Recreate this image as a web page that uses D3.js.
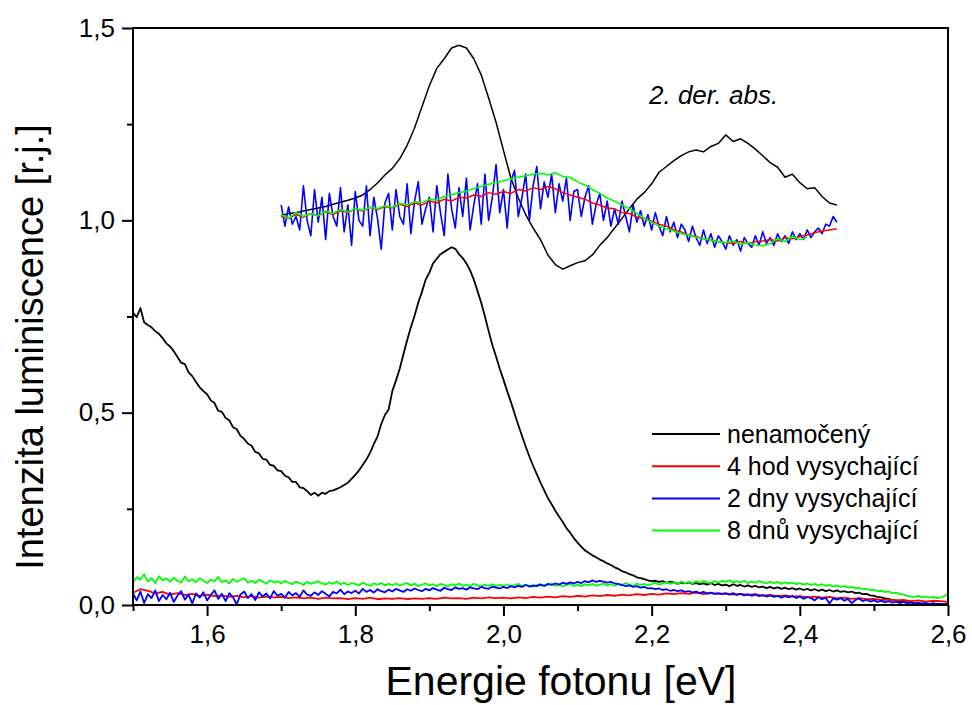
<!DOCTYPE html>
<html>
<head>
<meta charset="utf-8">
<script src="https://cdn.jsdelivr.net/npm/d3@7/dist/d3.min.js"></script>
<style>
  body { margin: 0; background: #fff; }
  text { font-family: Arial, "Liberation Sans", sans-serif; fill: #000; }
</style>
</head>
<body>
<svg id="chart" width="972" height="705"></svg>
<script>
// ---- Luminescence spectra (lower curves), sampled on a regular energy grid ----
const plStart = 1.50;
const plFineStep = 0.005;   // black, green and blue spectra
const plCoarseStep = 0.01;  // red spectrum

// nenamočený – photoluminescence, 1.50..2.60 eV, step 0.005
const plDry = [
  0.760, 0.748, 0.772, 0.735, 0.728, 0.722, 0.712, 0.705, 0.694, 0.680,
  0.672, 0.660, 0.645, 0.630, 0.626, 0.605, 0.595, 0.580, 0.566, 0.556,
  0.548, 0.532, 0.525, 0.505, 0.502, 0.486, 0.480, 0.462, 0.457, 0.440,
  0.432, 0.420, 0.414, 0.398, 0.394, 0.380, 0.378, 0.364, 0.362, 0.350,
  0.348, 0.336, 0.332, 0.320, 0.320, 0.306, 0.304, 0.296, 0.286, 0.292,
  0.284, 0.292, 0.289, 0.296, 0.298, 0.302, 0.306, 0.312, 0.318, 0.328,
  0.338, 0.350, 0.364, 0.378, 0.396, 0.418, 0.438, 0.470, 0.494, 0.508,
  0.556, 0.584, 0.614, 0.652, 0.688, 0.722, 0.752, 0.786, 0.814, 0.846,
  0.864, 0.888, 0.900, 0.912, 0.918, 0.924, 0.930, 0.926, 0.912, 0.902,
  0.888, 0.870, 0.846, 0.816, 0.786, 0.750, 0.712, 0.676, 0.646, 0.614,
  0.586, 0.556, 0.528, 0.498, 0.468, 0.440, 0.412, 0.386, 0.362, 0.340,
  0.318, 0.298, 0.278, 0.262, 0.245, 0.230, 0.216, 0.200, 0.188, 0.174,
  0.162, 0.152, 0.142, 0.136, 0.129, 0.124, 0.118, 0.114, 0.108, 0.104,
  0.098, 0.094, 0.088, 0.085, 0.080, 0.077, 0.072, 0.070, 0.067, 0.064,
  0.062, 0.063, 0.060, 0.062, 0.058, 0.061, 0.059, 0.055, 0.058, 0.056,
  0.059, 0.055, 0.057, 0.054, 0.056, 0.053, 0.057, 0.052, 0.055, 0.051,
  0.053, 0.049, 0.054, 0.050, 0.052, 0.048, 0.051, 0.047, 0.050, 0.046,
  0.048, 0.044, 0.047, 0.043, 0.046, 0.042, 0.045, 0.041, 0.044, 0.040,
  0.043, 0.039, 0.042, 0.038, 0.041, 0.037, 0.040, 0.036, 0.039, 0.035,
  0.038, 0.034, 0.036, 0.033, 0.035, 0.031, 0.032, 0.028, 0.029, 0.025,
  0.024, 0.021, 0.020, 0.017, 0.016, 0.013, 0.012, 0.010, 0.009, 0.007,
  0.007, 0.005, 0.005, 0.004, 0.004, 0.003, 0.004, 0.003, 0.003, 0.002,
  0.003
];

// 4 hod vysychající – 1.50..2.60 eV, step 0.01
const pl4h = [
  0.032, 0.041, 0.037, 0.030, 0.034, 0.027, 0.031, 0.026, 0.029, 0.024,
  0.027, 0.023, 0.025, 0.021, 0.024, 0.020, 0.023, 0.019, 0.022, 0.020,
  0.021, 0.018, 0.020, 0.017, 0.019, 0.016, 0.019, 0.017, 0.018, 0.015,
  0.018, 0.016, 0.019, 0.015, 0.017, 0.016, 0.018, 0.015, 0.017, 0.016,
  0.018, 0.016, 0.019, 0.017, 0.018, 0.016, 0.019, 0.017, 0.020, 0.018,
  0.019, 0.017, 0.020, 0.018, 0.021, 0.019, 0.022, 0.020, 0.023, 0.021,
  0.024, 0.022, 0.025, 0.023, 0.026, 0.024, 0.027, 0.025, 0.028, 0.026,
  0.029, 0.027, 0.030, 0.028, 0.031, 0.029, 0.032, 0.028, 0.031, 0.029,
  0.030, 0.027, 0.029, 0.026, 0.028, 0.024, 0.026, 0.023, 0.025, 0.022,
  0.023, 0.020, 0.022, 0.019, 0.021, 0.017, 0.019, 0.016, 0.018, 0.015,
  0.016, 0.013, 0.014, 0.012, 0.013, 0.010, 0.012, 0.009, 0.011, 0.010,
  0.008
];

// 2 dny vysychající – 1.50..2.60 eV, step 0.005
const pl2d = [
  0.030, 0.012, 0.035, 0.005, 0.028, 0.018, 0.038, 0.010, 0.026, 0.015,
  0.032, 0.008, 0.024, 0.036, 0.014, 0.027, 0.004, 0.030, 0.019, 0.033,
  0.012, 0.026, 0.038, 0.016, 0.029, 0.010, 0.031, 0.020, 0.002, 0.027,
  0.035, 0.018, 0.028, 0.013, 0.033, 0.022, 0.030, 0.017, 0.036, 0.024,
  0.029, 0.019, 0.034, 0.025, 0.031, 0.021, 0.038, 0.027, 0.024, 0.033,
  0.026, 0.036, 0.029, 0.022, 0.034, 0.030, 0.040, 0.028, 0.035, 0.031,
  0.037, 0.030, 0.042, 0.034, 0.039, 0.032, 0.041, 0.036, 0.033, 0.040,
  0.035, 0.042, 0.038, 0.034, 0.041, 0.037, 0.043, 0.039, 0.036, 0.042,
  0.038, 0.044, 0.040, 0.037, 0.045, 0.041, 0.039, 0.046, 0.042, 0.044,
  0.040, 0.046, 0.043, 0.041, 0.047, 0.044, 0.042, 0.048, 0.045, 0.043,
  0.047, 0.044, 0.049, 0.046, 0.050, 0.047, 0.052, 0.048, 0.051, 0.049,
  0.053, 0.050, 0.055, 0.052, 0.056, 0.053, 0.058, 0.055, 0.059, 0.056,
  0.060, 0.057, 0.062, 0.059, 0.064, 0.060, 0.063, 0.061, 0.058, 0.060,
  0.056, 0.054, 0.052, 0.049, 0.051, 0.047, 0.049, 0.045, 0.047, 0.043,
  0.044, 0.041, 0.043, 0.039, 0.041, 0.037, 0.039, 0.036, 0.038, 0.034,
  0.036, 0.033, 0.035, 0.031, 0.034, 0.030, 0.032, 0.029, 0.031, 0.028,
  0.030, 0.027, 0.031, 0.026, 0.029, 0.025, 0.028, 0.024, 0.027, 0.023,
  0.026, 0.022, 0.025, 0.021, 0.024, 0.019, 0.023, 0.020, 0.024, 0.018,
  0.022, 0.016, 0.021, 0.018, 0.012, 0.020, 0.015, 0.019, 0.004, 0.017,
  0.014, 0.018, 0.011, 0.016, 0.005, 0.013, 0.017, 0.010, 0.014, 0.009,
  0.012, 0.008, 0.011, 0.007, 0.010, 0.006, 0.009, 0.005, 0.008, 0.004,
  0.007, 0.003, 0.006, 0.002, 0.005, 0.002, 0.004, 0.001, 0.003, 0.002,
  0.002
];

// 8 dnů vysychající – 1.50..2.60 eV, step 0.005
const pl8d = [
  0.058, 0.072, 0.066, 0.080, 0.061, 0.070, 0.057, 0.075, 0.064, 0.069,
  0.060, 0.071, 0.063, 0.058, 0.074, 0.062, 0.067, 0.059, 0.070, 0.063,
  0.057, 0.066, 0.061, 0.073, 0.059, 0.064, 0.056, 0.068, 0.060, 0.065,
  0.070, 0.058, 0.063, 0.057, 0.066, 0.061, 0.055, 0.064, 0.059, 0.062,
  0.056, 0.063, 0.058, 0.054, 0.061, 0.057, 0.052, 0.060, 0.055, 0.058,
  0.062, 0.056, 0.053, 0.059, 0.055, 0.061, 0.054, 0.058, 0.052, 0.057,
  0.055, 0.051, 0.058, 0.054, 0.050, 0.056, 0.053, 0.057, 0.051, 0.055,
  0.052, 0.056, 0.050, 0.054, 0.057, 0.051, 0.055, 0.049, 0.053, 0.056,
  0.051, 0.054, 0.049, 0.055, 0.052, 0.048, 0.054, 0.051, 0.056, 0.050,
  0.053, 0.049, 0.055, 0.051, 0.048, 0.053, 0.050, 0.054, 0.049, 0.052,
  0.050, 0.054, 0.048, 0.052, 0.055, 0.049, 0.053, 0.050, 0.047, 0.052,
  0.054, 0.049, 0.052, 0.056, 0.050, 0.053, 0.048, 0.052, 0.055, 0.050,
  0.053, 0.049, 0.054, 0.051, 0.055, 0.050, 0.053, 0.056, 0.051, 0.054,
  0.050, 0.055, 0.052, 0.057, 0.053, 0.050, 0.056, 0.052, 0.055, 0.051,
  0.054, 0.058, 0.053, 0.056, 0.060, 0.055, 0.058, 0.054, 0.061, 0.057,
  0.060, 0.056, 0.062, 0.058, 0.063, 0.059, 0.057, 0.062, 0.058, 0.063,
  0.060, 0.064, 0.058, 0.062, 0.059, 0.063, 0.057, 0.061, 0.058, 0.062,
  0.059, 0.056, 0.061, 0.057, 0.060, 0.055, 0.059, 0.056, 0.058, 0.054,
  0.057, 0.053, 0.056, 0.052, 0.055, 0.051, 0.054, 0.050, 0.052, 0.048,
  0.051, 0.047, 0.049, 0.045, 0.047, 0.043, 0.045, 0.041, 0.042, 0.039,
  0.040, 0.036, 0.037, 0.034, 0.035, 0.031, 0.032, 0.028, 0.027, 0.024,
  0.022, 0.021, 0.024, 0.020, 0.022, 0.019, 0.021, 0.018, 0.020, 0.023,
  0.029
];

// ---- Second derivative of absorption (upper curves, offset scale) ----
const derStart = 1.70;
const derStep = 0.01;
const derFineStep = 0.005;

// nenamočený, 1.70..2.45 eV, step 0.01
const derDry = [
  1.012, 1.018, 1.020, 1.024, 1.028, 1.032, 1.036, 1.042, 1.047, 1.052,
  1.058, 1.066, 1.080, 1.097, 1.118, 1.135, 1.160, 1.195, 1.240, 1.295,
  1.350, 1.395, 1.420, 1.448, 1.455, 1.448, 1.420, 1.378, 1.318, 1.255,
  1.182, 1.110, 1.058, 1.015, 0.980, 0.950, 0.910, 0.885, 0.873, 0.882,
  0.890, 0.895, 0.910, 0.935, 0.955, 0.980, 1.005, 1.030, 1.055, 1.072,
  1.095, 1.125, 1.140, 1.155, 1.168, 1.178, 1.183, 1.178, 1.192, 1.200,
  1.222, 1.205, 1.212, 1.200, 1.185, 1.168, 1.150, 1.138, 1.112, 1.120,
  1.098, 1.082, 1.085, 1.062, 1.045, 1.040
];

// 4 hod vysychající, 1.70..2.45 eV, step 0.01
const der4h = [
  1.010, 1.005, 1.015, 1.008, 1.018, 1.012, 1.022, 1.015, 1.025, 1.020,
  1.030, 1.024, 1.033, 1.028, 1.036, 1.032, 1.042, 1.036, 1.045, 1.040,
  1.050, 1.045, 1.055, 1.050, 1.060, 1.058, 1.066, 1.062, 1.072, 1.068,
  1.075, 1.070, 1.080, 1.076, 1.085, 1.080, 1.088, 1.082, 1.072, 1.066,
  1.060, 1.055, 1.045, 1.040, 1.032, 1.030, 1.020, 1.018, 1.008, 1.005,
  0.998, 0.990, 0.985, 0.975, 0.970, 0.962, 0.958, 0.952, 0.948, 0.944,
  0.942, 0.940, 0.945, 0.940, 0.944, 0.946, 0.950, 0.946, 0.955, 0.952,
  0.958, 0.962, 0.968, 0.972, 0.975, 0.978
];

// 2 dny vysychající, 1.70..2.45 eV, step 0.005
const der2d = [
  1.040, 0.985, 1.035, 0.990, 1.010, 0.975, 1.090, 1.000, 0.960, 1.080,
  0.995, 1.060, 0.950, 1.070, 1.010, 0.985, 1.085, 0.970, 1.040, 0.935,
  1.075, 1.000, 0.985, 1.090, 0.960, 1.060, 1.005, 0.925, 1.045, 1.070,
  0.975, 1.080, 1.010, 0.990, 1.095, 0.965, 1.050, 1.100, 0.990, 1.030,
  1.060, 0.970, 1.090, 1.020, 0.960, 1.120, 1.030, 0.980, 1.085, 1.010,
  1.110, 0.975, 1.040, 1.095, 0.990, 1.120, 1.000, 1.060, 1.145, 1.020,
  1.080, 0.980, 1.100, 1.130, 1.010, 1.060, 1.120, 1.000, 1.090, 1.140,
  1.030, 1.100, 1.060, 1.120, 1.020, 1.095, 1.050, 1.110, 1.000, 1.075,
  1.080, 1.010, 1.060, 1.090, 0.990, 1.040, 1.070, 1.000, 1.050, 0.985,
  1.030, 0.990, 1.050, 1.010, 0.970, 1.040, 0.995, 1.025, 0.985, 1.015,
  0.975, 1.020, 0.985, 0.960, 1.010, 0.970, 0.995, 0.955, 0.990, 0.975,
  0.945, 0.985, 0.955, 0.935, 0.975, 0.940, 0.965, 0.930, 0.960, 0.945,
  0.925, 0.960, 0.935, 0.950, 0.920, 0.955, 0.940, 0.930, 0.960, 0.935,
  0.970, 0.940, 0.955, 0.935, 0.965, 0.945, 0.960, 0.940, 0.970, 0.950,
  0.965, 0.950, 0.975, 0.955, 0.970, 0.980, 0.965, 0.990, 0.985, 1.010,
  0.995
];

// 8 dnů vysychající, 1.70..2.41 eV, step 0.01
const der8d = [
  1.015, 1.005, 1.020, 1.010, 1.018, 1.012, 1.024, 1.018, 1.028, 1.022,
  1.030, 1.026, 1.034, 1.030, 1.038, 1.034, 1.044, 1.040, 1.048, 1.046,
  1.055, 1.052, 1.062, 1.066, 1.072, 1.076, 1.083, 1.088, 1.094, 1.098,
  1.103, 1.108, 1.112, 1.116, 1.120, 1.122, 1.118, 1.124, 1.114, 1.112,
  1.100, 1.092, 1.080, 1.070, 1.058, 1.050, 1.040, 1.030, 1.018, 1.005,
  0.995, 0.985, 0.978, 0.972, 0.965, 0.962, 0.956, 0.952, 0.948, 0.945,
  0.942, 0.946, 0.938, 0.942, 0.936, 0.934, 0.940, 0.952, 0.945, 0.958,
  0.950, 0.956
];

// ---- Axis ticks and labels ----
const xMajorTicks = [1.6, 1.8, 2.0, 2.2, 2.4, 2.6];
const xMinorTicks = [1.5, 1.7, 1.9, 2.1, 2.3, 2.5];
const yMajorTicks = [0, 0.5, 1.0, 1.5];
const yMinorTicks = [0.25, 0.75, 1.25];
const xTitle = "Energie fotonu [eV]";
const yTitle = "Intenzita luminiscence [r.j.]";
const annotation = "2. der. abs.";

const seriesNames = ["nenamočený", "4 hod vysychající", "2 dny vysychající", "8 dnů vysychající"];
const seriesColors = ["#000000", "#ff0000", "#0000ff", "#00ff00"];

// ---- Drawing ----
const svg = d3.select("#chart");
const margin = { left: 133, right: 24, top: 28, bottom: 100 };
const W = 972, H = 705;

const x = d3.scaleLinear().domain([1.5, 2.6]).range([margin.left, W - margin.right]);
const y = d3.scaleLinear().domain([0, 1.5]).range([H - margin.bottom, margin.top]);

const comma = d => d.toFixed(1).replace(".", ",");

function toPoints(values, start, step) {
  return values.map((v, i) => [start + i * step, v]);
}

const line = d3.line().x(d => x(d[0])).y(d => y(d[1]));

const plot = svg.append("g");

// curves: upper derivative group first, luminescence spectra on top
const curves = [
  { pts: toPoints(derDry, derStart, derStep), color: seriesColors[0], w: 1.5 },
  { pts: toPoints(der2d, derStart, derFineStep), color: seriesColors[2], w: 1.6 },
  { pts: toPoints(der4h, derStart, derStep), color: seriesColors[1], w: 1.5 },
  { pts: toPoints(der8d, derStart, derStep), color: seriesColors[3], w: 1.6 },
  { pts: toPoints(plDry, plStart, plFineStep), color: seriesColors[0], w: 1.8 },
  { pts: toPoints(pl8d, plStart, plFineStep), color: seriesColors[3], w: 1.8 },
  { pts: toPoints(pl4h, plStart, plCoarseStep), color: seriesColors[1], w: 1.8 },
  { pts: toPoints(pl2d, plStart, plFineStep), color: seriesColors[2], w: 1.8 }
];

plot.selectAll("path.curve")
  .data(curves)
  .join("path")
  .attr("class", "curve")
  .attr("d", d => line(d.pts))
  .attr("fill", "none")
  .attr("stroke", d => d.color)
  .attr("stroke-width", d => d.w)
  .attr("stroke-linejoin", "round");

// frame
svg.append("rect")
  .attr("x", x(1.5)).attr("y", y(1.5))
  .attr("width", x(2.6) - x(1.5)).attr("height", y(0) - y(1.5))
  .attr("fill", "none").attr("stroke", "#000").attr("stroke-width", 2);

// x axis
const gx = svg.append("g").attr("transform", `translate(0,${y(0)})`);
gx.call(d3.axisBottom(x).tickValues(xMajorTicks).tickFormat(comma).tickSize(11).tickPadding(9));
const gxMinor = svg.append("g").attr("transform", `translate(0,${y(0)})`);
gxMinor.call(d3.axisBottom(x).tickValues(xMinorTicks).tickFormat("").tickSize(6));

// y axis
const gy = svg.append("g").attr("transform", `translate(${x(1.5)},0)`);
gy.call(d3.axisLeft(y).tickValues(yMajorTicks).tickFormat(comma).tickSize(11).tickPadding(7));
const gyMinor = svg.append("g").attr("transform", `translate(${x(1.5)},0)`);
gyMinor.call(d3.axisLeft(y).tickValues(yMinorTicks).tickFormat("").tickSize(6));

svg.selectAll(".domain").remove();
svg.selectAll(".tick line").attr("stroke", "#000").attr("stroke-width", 2);
svg.selectAll(".tick text")
  .attr("font-family", "Arial, 'Liberation Sans', sans-serif")
  .attr("font-size", 26)
  .attr("fill", "#000");

// axis titles
svg.append("text")
  .attr("x", 561).attr("y", 695)
  .attr("text-anchor", "middle")
  .attr("font-size", 41)
  .text(xTitle);

svg.append("text")
  .attr("transform", "translate(43,347) rotate(-90)")
  .attr("text-anchor", "middle")
  .attr("font-size", 38)
  .text(yTitle);

// annotation
svg.append("text")
  .attr("x", 649).attr("y", 104)
  .attr("font-size", 26)
  .attr("font-style", "italic")
  .text(annotation);

// legend
const legend = svg.append("g").attr("transform", "translate(652,434)");
const rows = legend.selectAll("g")
  .data(seriesNames)
  .join("g")
  .attr("transform", (d, i) => `translate(0,${i * 32.2})`);
rows.append("line")
  .attr("x1", 0).attr("x2", 68).attr("y1", 0).attr("y2", 0)
  .attr("stroke", (d, i) => seriesColors[i]).attr("stroke-width", 2);
rows.append("text")
  .attr("x", 75).attr("y", 8.5)
  .attr("font-size", 25)
  .text(d => d);
</script>
</body>
</html>
